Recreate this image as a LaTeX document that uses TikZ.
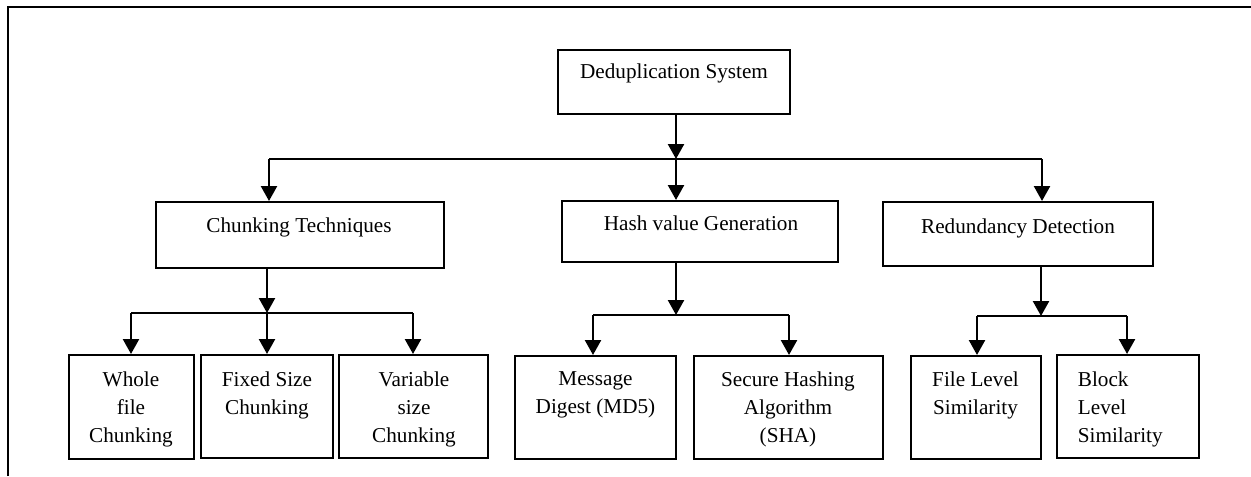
\documentclass[tikz,border=0pt]{standalone}
\usepackage{fontspec}
\setmainfont{Liberation Serif}
\usetikzlibrary{arrows.meta}
\begin{document}
\begin{tikzpicture}[x=0.5pt,y=-0.5pt,
  box/.style={draw, line width=1pt, inner sep=0pt},
  txt/.style={inner sep=0pt, anchor=north, align=center, font=\fontsize{10.6}{14}\selectfont},
  arr/.style={line width=1.2pt, -{Triangle[width=8pt,length=7.5pt]}},
  bus/.style={line width=0.8pt},
  frame/.style={line width=1.2pt}]
\useasboundingbox (0,0) rectangle (1251,476);
\draw[frame] (8,476) -- (8,7) -- (1251,7);
% boxes
\node[box, minimum width=116pt, minimum height=32pt] (root) at (674,82) {};
\node[box, minimum width=144pt, minimum height=33pt] (chunk) at (300,235) {};
\node[box, minimum width=138pt, minimum height=30.5pt] (hash) at (700,231.5) {};
\node[box, minimum width=135pt, minimum height=32pt] (redun) at (1018,234) {};
\node[box, minimum width=62.5pt, minimum height=52pt] (whole) at (131.5,407) {};
\node[box, minimum width=66pt, minimum height=51.5pt] (fixed) at (267,406.5) {};
\node[box, minimum width=74.5pt, minimum height=51.5pt] (var) at (413.5,406.5) {};
\node[box, minimum width=80.5pt, minimum height=51.5pt] (md5) at (595.5,407.5) {};
\node[box, minimum width=94.5pt, minimum height=51.5pt] (sha) at (788.5,407.5) {};
\node[box, minimum width=65pt, minimum height=51.5pt] (file) at (976,407.5) {};
\node[box, minimum width=71pt, minimum height=51.5pt] (block) at (1128,406.5) {};
% texts
\node[txt] (rootT) at (674,63) {Deduplication System};
\node[txt] (chunkT) at (299,217) {Chunking Techniques};
\node[txt] (hashT) at (701,215) {Hash value Generation};
\node[txt] (redunT) at (1018,218) {Redundancy Detection};
\node[txt] (wholeT) at (131,371) {Whole\\file\\Chunking};
\node[txt] (fixedT) at (267,371) {Fixed Size\\Chunking};
\node[txt] (varT) at (414,371) {Variable\\size\\Chunking};
\node[txt] (md5T) at (595.5,371) {Message\\Digest (MD5)};
\node[txt] (shaT) at (788,371) {Secure Hashing\\Algorithm\\(SHA)};
\node[txt] (fileT) at (975.5,371) {File Level\\Similarity};
\node[txt, align=left, anchor=north west] (blockT) at (1077.5,371) {Block\\Level\\Similarity};
% level 0 -> 1
\coordinate (j0) at (676,159);
\coordinate (j0l) at (269,159);
\coordinate (j0r) at (1042,159);
\draw[arr] (root.south -| j0) -- (j0);
\draw[bus] (j0l) -- (j0r);
\draw[arr] (j0l) -- (j0l |- chunk.north);
\draw[arr] (j0) -- (j0 |- hash.north);
\draw[arr] (j0r) -- (j0r |- redun.north);
% chunking
\coordinate (j1) at (267,313);
\coordinate (j1l) at (131,313);
\coordinate (j1r) at (413,313);
\draw[arr] (chunk.south -| j1) -- (j1);
\draw[bus] (j1l) -- (j1r);
\draw[arr] (j1l) -- (j1l |- whole.north);
\draw[arr] (j1) -- (j1 |- fixed.north);
\draw[arr] (j1r) -- (j1r |- var.north);
% hash
\coordinate (j2) at (676,315);
\coordinate (j2l) at (593,315);
\coordinate (j2r) at (789,315);
\draw[arr] (hash.south -| j2) -- (j2);
\draw[bus] (j2l) -- (j2r);
\draw[arr] (j2l) -- (j2l |- md5.north);
\draw[arr] (j2r) -- (j2r |- sha.north);
% redundancy
\coordinate (j3) at (1041,316);
\coordinate (j3l) at (977,316);
\coordinate (j3r) at (1127,316);
\draw[arr] (redun.south -| j3) -- (j3);
\draw[bus] (j3l) -- (j3r);
\draw[arr] (j3l) -- (j3l |- file.north);
\draw[arr] (j3r) -- (j3r |- block.north);
\end{tikzpicture}
\end{document}
